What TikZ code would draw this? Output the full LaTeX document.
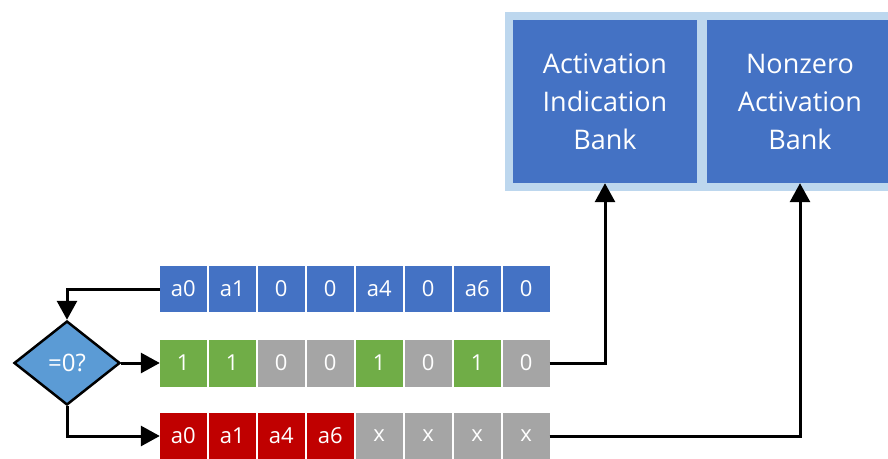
\documentclass[tikz,border=0pt]{standalone}
\usepackage{fontspec}
\setmainfont{Open Sans}
\usetikzlibrary{shapes.geometric,arrows.meta}
\definecolor{cblue}{HTML}{4472C4}
\definecolor{cgreen}{HTML}{70AD47}
\definecolor{cgray}{HTML}{A5A5A5}
\definecolor{cred}{HTML}{C00000}
\definecolor{cdia}{HTML}{5B9BD5}
\definecolor{clight}{HTML}{BDD7EE}
\tikzset{
  cell/.style={minimum width=46.5pt, minimum height=46pt, inner sep=0pt, text=white, font=\fontsize{22}{26}\selectfont},
  bank/.style={fill=cblue, text=white, minimum width=184pt, minimum height=163pt, inner sep=0pt, align=center, font=\fontsize{27}{38}\selectfont},
  conn/.style={line width=3pt, -{Triangle[width=20pt,length=19pt]}},
}
\begin{document}
\begin{tikzpicture}[x=1pt,y=-1pt]
\useasboundingbox (0,0) rectangle (888,458);
% bank panel
\fill[clight] (505,12) rectangle (900,191);
\node[bank] (bankA) at (605,101.5) {Activation\\Indication\\Bank};
\node[bank, minimum width=186pt] (bankB) at (800,101.5) {Nonzero\\Activation\\Bank};
% rows
\foreach \t/\c [count=\i from 0] in {a0/cblue,a1/cblue,0/cblue,0/cblue,a4/cblue,0/cblue,a6/cblue,0/cblue}
  \node[cell, fill=\c] (ra\i) at (183.25+49*\i,289) {\t};
\foreach \t/\c [count=\i from 0] in {1/cgreen,1/cgreen,0/cgray,0/cgray,1/cgreen,0/cgray,1/cgreen,0/cgray}
  \node[cell, fill=\c, minimum height=47pt] (rb\i) at (183.25+49*\i,363) {\t};
\foreach \t/\c [count=\i from 0] in {a0/cred,a1/cred,a4/cred,a6/cred,x/cgray,x/cgray,x/cgray,x/cgray}
  \node[cell, fill=\c] (rc\i) at (183.25+49*\i,436) {\t};
% diamond
\node[diamond, aspect=1.26, minimum width=106pt, minimum height=84pt, inner sep=0pt, fill=cdia, draw=black, line width=2.5pt, text=white, font=\fontsize{24}{28}\selectfont] (dia) at (67,363) {=0?};
% connectors
\draw[conn] (ra0.west) -| (dia.north);
\draw[conn] (dia.east) -- (rb0.west);
\draw[conn] (dia.south) |- (rc0.west);
\draw[conn] (rb7.east) -| (bankA.south);
\draw[conn] (rc7.east) -| (bankB.south);
\end{tikzpicture}
\end{document}
